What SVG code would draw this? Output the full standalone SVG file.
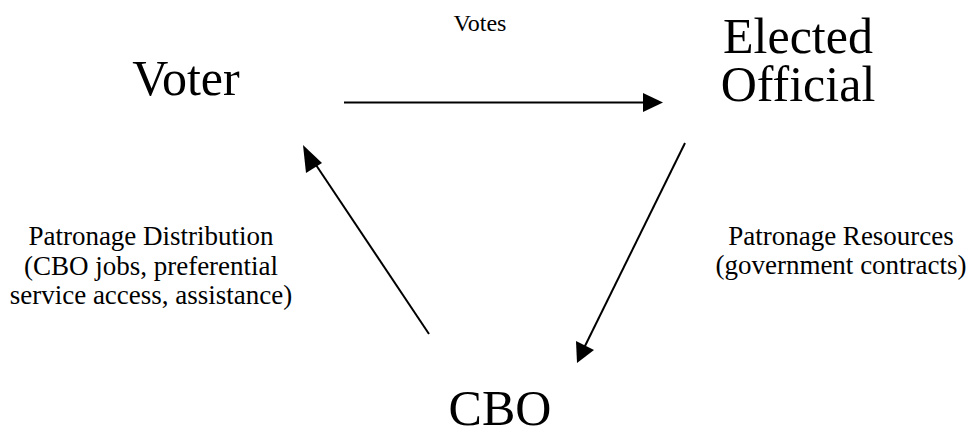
<svg xmlns="http://www.w3.org/2000/svg" width="969" height="436" viewBox="0 0 969 436">
<style>
text{font-family:"Liberation Serif","Times New Roman",serif;fill:#000;text-anchor:middle}
.big{font-size:50px}
.lbl{font-size:27px}
.edge{stroke:#000;stroke-width:2;fill:none}
</style>
<rect width="969" height="436" fill="#fff"/>
<g id="voter"><text class="big" x="186" y="95">Voter</text></g>
<g id="elected-official"><text class="big" x="798" y="53">Elected<tspan x="798" dy="48">Official</tspan></text></g>
<g id="cbo"><text class="big" x="500" y="425">CBO</text></g>
<g id="connectors">
<line class="edge" x1="344" y1="102.5" x2="645" y2="102.5"/>
<path d="M643,93 L663,102.5 L643,112 Z" fill="#000"/>
<line class="edge" x1="429" y1="334" x2="312" y2="159"/>
<path d="M303,145 L322,163 L306,173 Z" fill="#000"/>
<line class="edge" x1="685" y1="143" x2="584" y2="348"/>
<path d="M577,363 L576,341 L594,350 Z" fill="#000"/>
</g>
<g id="labels">
<text x="480" y="31" style="font-size:24px">Votes</text>
<text class="lbl" x="151" y="245">Patronage Distribution</text>
<text class="lbl" x="151" y="275">(CBO jobs, preferential</text>
<text class="lbl" x="151" y="304">service access, assistance)</text>
<text class="lbl" x="841" y="245">Patronage Resources</text>
<text class="lbl" x="841" y="274">(government contracts)</text>
</g>
</svg>
